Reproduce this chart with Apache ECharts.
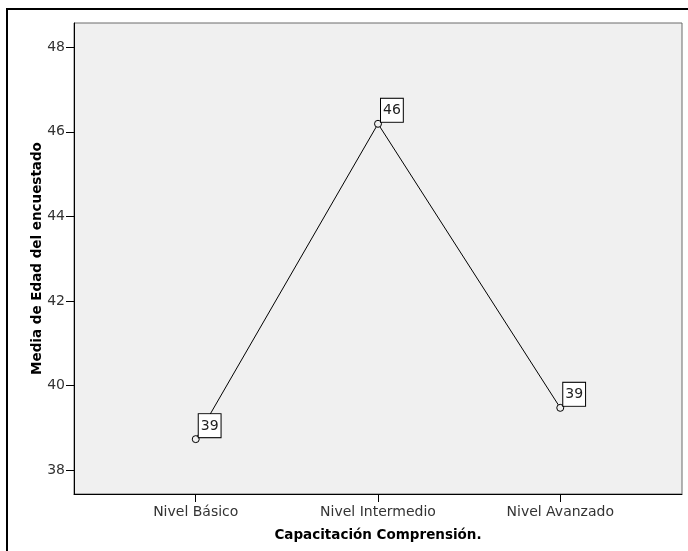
<!DOCTYPE html>
<html>
<head>
<meta charset="utf-8">
<script src="https://cdn.jsdelivr.net/npm/echarts@6/dist/echarts.min.js"></script>
<style>
  html, body { margin: 0; padding: 0; background: #fff; }
  #container { width: 688px; height: 551px; }
</style>
</head>
<body>
<div id="container"></div>
<script>
// datos
const categories = ['Nivel Básico', 'Nivel Intermedio', 'Nivel Avanzado']
const means = [38.73, 46.19, 39.47]
const yTicks = [38, 40, 42, 44, 46, 48]
const xTicks = [1, 2, 3]

const font = 'Verdana, "DejaVu Sans", sans-serif'

const chart = echarts.init(document.getElementById('container'))

chart.setOption({
  animation: false,
  backgroundColor: '#fff',
  grid: {
    left: 74, top: 23, right: 6, bottom: 57,
    show: true,
    backgroundColor: '#f0f0f0',
    borderColor: '#6b6b6b',
    borderWidth: 1
  },
  xAxis: {
    type: 'value',
    min: 0.332,
    max: 3.668,
    name: 'Capacitación Comprensión.',
    nameLocation: 'middle',
    nameGap: 34,
    nameMoveOverlap: false,
    nameTextStyle: { fontFamily: font, fontSize: 13.5, fontWeight: 'bold', color: '#000' },
    axisLine: { show: true, lineStyle: { color: '#000', width: 1 } },
    axisTick: { show: true, length: 8, customValues: xTicks, lineStyle: { color: '#000' } },
    axisLabel: {
      customValues: xTicks,
      formatter: v => categories[Math.round(v) - 1],
      fontFamily: font, fontSize: 14, color: '#333', margin: 11
    },
    splitLine: { show: false }
  },
  yAxis: {
    type: 'value',
    min: 37.432,
    max: 48.575,
    name: 'Media de Edad del encuestado',
    nameLocation: 'middle',
    nameGap: 30,
    nameMoveOverlap: false,
    nameTextStyle: { fontFamily: font, fontSize: 13.5, fontWeight: 'bold', color: '#000' },
    axisLine: { show: true, lineStyle: { color: '#000', width: 1 } },
    axisTick: { show: true, length: 8, customValues: yTicks, lineStyle: { color: '#000' } },
    axisLabel: {
      customValues: yTicks,
      fontFamily: font, fontSize: 14, color: '#333', margin: 9
    },
    splitLine: { show: false }
  },
  graphic: [{
    type: 'rect',
    shape: { x: 7, y: 9, width: 720, height: 580 },
    style: { fill: 'none', stroke: '#000', lineWidth: 2 },
    silent: true
  }],
  series: [{
    type: 'line',
    data: means.map((m, i) => [xTicks[i], m]),
    symbol: 'circle',
    symbolSize: 7,
    lineStyle: { color: '#000', width: 1 },
    itemStyle: { color: '#f0f0f0', borderColor: '#000', borderWidth: 1 },
    label: {
      show: true,
      position: 'inside',
      align: 'left',
      verticalAlign: 'bottom',
      offset: [3, -2],
      formatter: p => String(Math.round(p.value[1])),
      fontFamily: font,
      fontSize: 14,
      color: '#222',
      backgroundColor: '#fff',
      borderColor: '#000',
      borderWidth: 1,
      padding: [4, 2, 3, 2],
      lineHeight: 16
    }
  }]
})
</script>
</body>
</html>
